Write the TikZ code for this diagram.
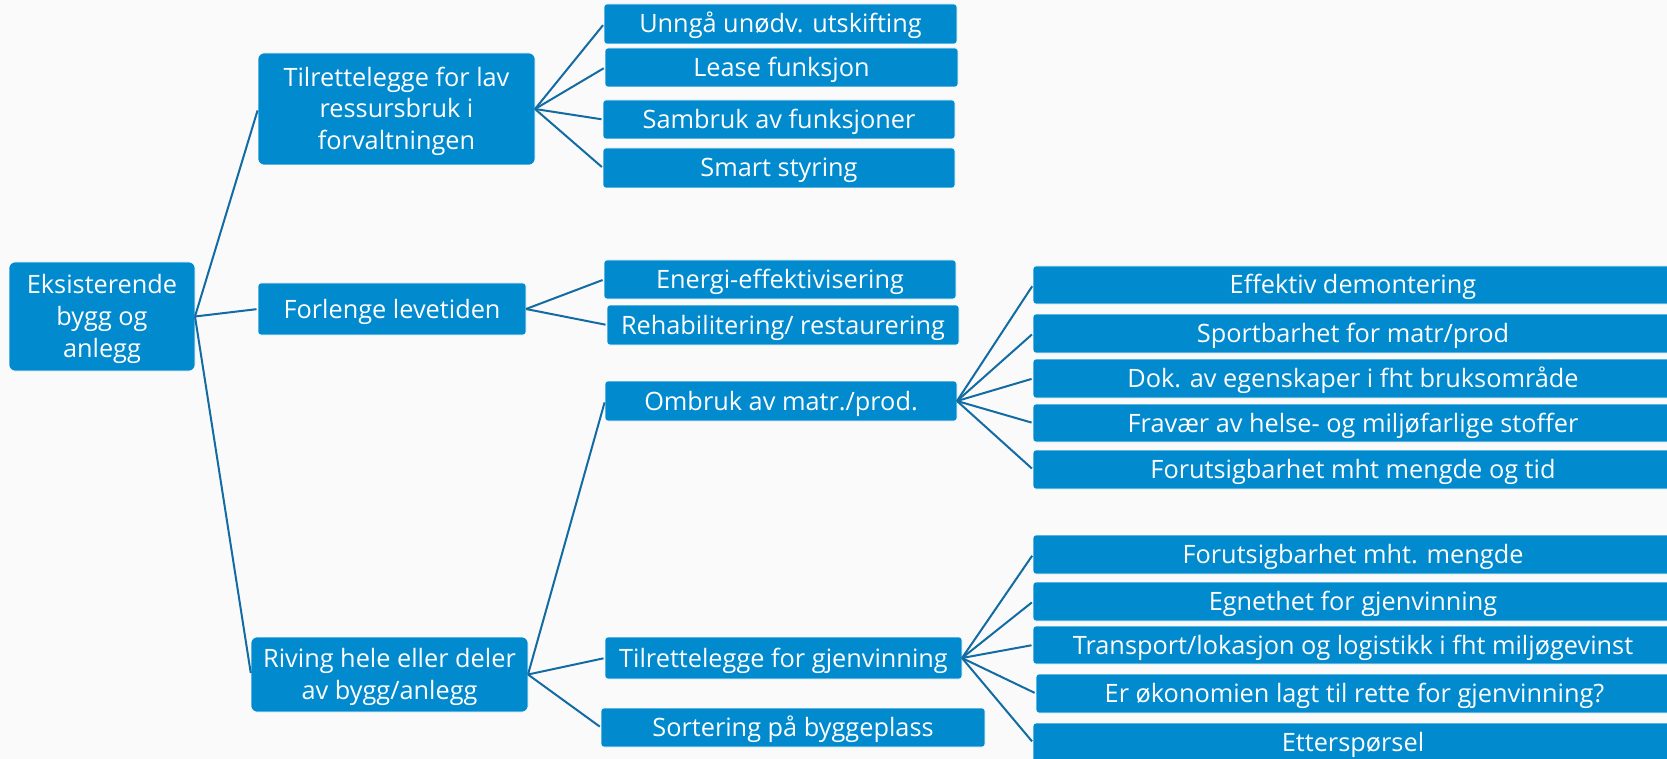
\documentclass[tikz,border=0pt]{standalone}
\usepackage{fontspec}
\setmainfont{Open Sans}
\definecolor{boxblue}{RGB}{2,138,206}
\definecolor{linkblue}{RGB}{18,108,163}
\definecolor{bgcol}{RGB}{250,250,250}
\begin{document}
\begin{tikzpicture}[x=1pt,y=-1pt,
  box/.style={draw=white, line width=0.6pt, fill=boxblue, text=white,
    rounded corners=3pt, inner sep=0pt, outer sep=0pt, align=center,
    text height=18pt, text depth=0pt,
    font=\fontsize{25.3}{31.7}\selectfont},
  bigbox/.style={box, rounded corners=6pt},
  twoline/.style={text height=49.7pt, text depth=0pt},
  threeline/.style={text height=81.4pt, text depth=0pt},
  link/.style={draw=linkblue, line width=2pt, shorten >=1.5pt}]
\useasboundingbox[fill=bgcol] (0,0) rectangle (1667,759);
% level 0
\node[bigbox, threeline, minimum width=186pt, minimum height=109pt] (root) at (102,316.5) {Eksisterende\\bygg og\\anlegg};
% level 1
\node[bigbox, threeline, minimum width=277pt, minimum height=112pt] (tl) at (396.5,109) {Tilrettelegge for lav\\ressursbruk i\\forvaltningen};
\node[box, minimum width=268pt, minimum height=52pt] (fl) at (392,309) {Forlenge levetiden};
\node[bigbox, twoline, minimum width=277pt, minimum height=75pt] (rv) at (389.5,674.5) {Riving hele eller deler\\av bygg/anlegg};
% level 2
\node[box, minimum width=353pt, minimum height=40pt] (u1) at (780.5,24) {Unngå unødv. utskifting};
\node[box, minimum width=353pt, minimum height=39pt] (u2) at (781.5,67.5) {Lease funksjon};
\node[box, minimum width=352pt, minimum height=39pt] (u3) at (779,119.5) {Sambruk av funksjoner};
\node[box, minimum width=352pt, minimum height=40pt] (u4) at (779,168) {Smart styring};
\node[box, minimum width=352pt, minimum height=39pt] (f1) at (780,279.5) {Energi-effektivisering};
\node[box, minimum width=352pt, minimum height=40pt] (f2) at (783,325) {Rehabilitering/ restaurering};
\node[box, minimum width=352pt, minimum height=40pt] (om) at (781,401) {Ombruk av matr./prod.};
\node[box, minimum width=357pt, minimum height=42pt] (tg) at (783.5,658) {Tilrettelegge for gjenvinning};
\node[box, minimum width=384pt, minimum height=39pt] (so) at (793,727.5) {Sortering på byggeplass};
% level 3
\node[box, minimum width=640pt, minimum height=38pt] (o1) at (1353,285) {Effektiv demontering};
\node[box, minimum width=640pt, minimum height=39pt] (o2) at (1353,333.5) {Sportbarhet for matr/prod};
\node[box, minimum width=640pt, minimum height=39pt] (o3) at (1353,378.5) {Dok. av egenskaper i fht bruksområde};
\node[box, minimum width=640pt, minimum height=38pt] (o4) at (1353,423) {Fravær av helse- og miljøfarlige stoffer};
\node[box, minimum width=640pt, minimum height=39pt] (o5) at (1353,469.5) {Forutsigbarhet mht mengde og tid};
\node[box, minimum width=640pt, minimum height=39pt] (g1) at (1353,554.5) {Forutsigbarhet mht. mengde};
\node[box, minimum width=640pt, minimum height=39pt] (g2) at (1353,601.5) {Egnethet for gjenvinning};
\node[box, minimum width=640pt, minimum height=38pt] (g3) at (1353,645) {Transport/lokasjon og logistikk i fht miljøgevinst};
\node[box, minimum width=637pt, minimum height=39pt] (g4) at (1354.5,693.5) {Er økonomien lagt til rette for gjenvinning?};
\node[box, minimum width=640pt, minimum height=39pt] (g5) at (1353,742.5) {Etterspørsel};
% connectors
\foreach \c in {tl,fl,rv} \draw[link] (root.east) -- (\c.west);
\foreach \c in {u1,u2,u3,u4} \draw[link] (tl.east) -- (\c.west);
\foreach \c in {f1,f2} \draw[link] (fl.east) -- (\c.west);
\foreach \c in {om,tg,so} \draw[link] (rv.east) -- (\c.west);
\foreach \c in {o1,o2,o3,o4,o5} \draw[link] (om.east) -- (\c.west);
\foreach \c in {g1,g2,g3,g4,g5} \draw[link] (tg.east) -- (\c.west);
\end{tikzpicture}
\end{document}
